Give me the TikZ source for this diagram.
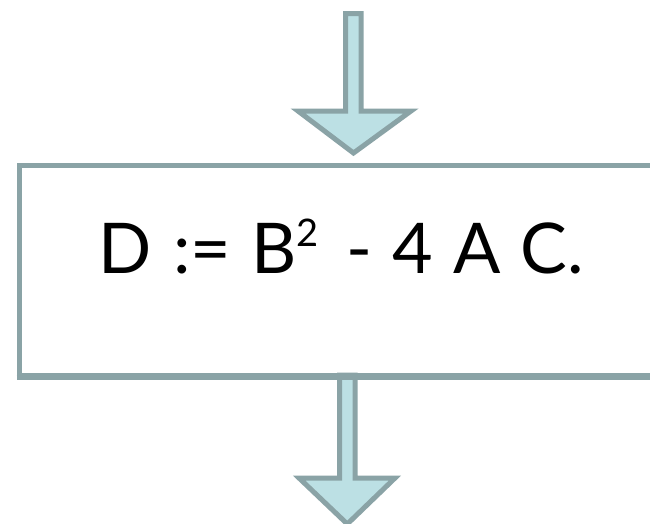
\documentclass[tikz,border=0pt]{standalone}
\usepackage{fontspec}
\setmainfont{Lato}
\definecolor{edge}{RGB}{138,163,166}
\definecolor{arrowfill}{RGB}{188,224,228}
\tikzset{
  flowarrow/.style={draw=edge, fill=arrowfill, line width=5pt, line join=miter},
  procbox/.style={draw=edge, line width=5pt, fill=white, rectangle, anchor=north west, inner sep=0pt},
}
\begin{document}
\begin{tikzpicture}[x=1pt,y=-1pt]
\useasboundingbox (0,0) rectangle (650,523);
\fill[white] (0,0) rectangle (650,523);
% top arrow
\draw[flowarrow] (345.5,13.5) -- (361,13.5) -- (361,111) -- (411,111) -- (353.5,153) -- (298,111) -- (345.5,111) -- cycle;
% box
\node[procbox, minimum width=700pt, minimum height=209.5pt] (box) at (16.7,163) {};
\node[font=\fontsize{70}{80}\selectfont, anchor=base west, inner sep=0pt] (formula) at (98,273)
  {D\hspace{4pt} :=\hspace{2pt} B\raisebox{27pt}{\fontsize{38}{40}\selectfont 2}\hspace{10pt} - \hspace{2pt}4\hspace{2pt} A\hspace{2pt} C.};
% bottom arrow
\draw[flowarrow] (339.5,375) -- (355,375) -- (355,478) -- (395,478) -- (347.3,524) -- (299,478) -- (339.5,478) -- cycle;
\draw[edge, line width=5pt] (box.south west) -- (box.south east);
\end{tikzpicture}
\end{document}
